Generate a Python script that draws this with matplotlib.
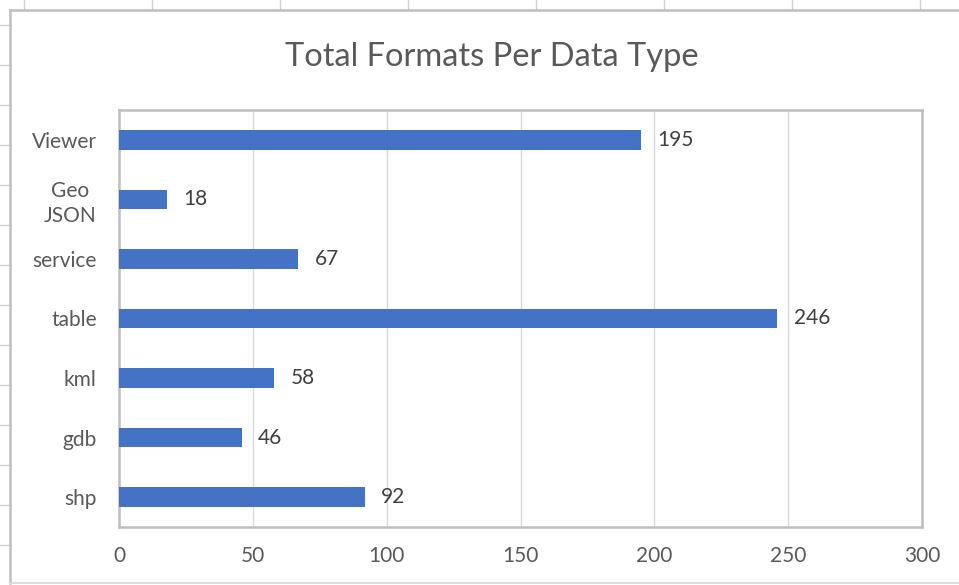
import matplotlib.pyplot as plt
from matplotlib.lines import Line2D

categories = ["shp", "gdb", "kml", "table", "service", "Geo\nJSON", "Viewer"]
counts = [92, 46, 58, 246, 67, 18, 195]
x_ticks = [0, 50, 100, 150, 200, 250, 300]

plt.rcParams['font.family'] = ['Lato', 'DejaVu Sans']
text_col = '#595959'

fig = plt.figure(figsize=(9.59, 5.85), dpi=100)
W, H = 959, 585

# spreadsheet cell lines showing around the chart
for x in [24, 152, 280, 408, 536, 664, 792, 920]:
    fig.add_artist(Line2D([x / W, x / W], [1, 1 - 10 / H], color='#d0d0d0', lw=1))
for y in [25, 65, 105, 145, 185, 225, 265, 305, 345, 385, 425, 465, 505, 545]:
    fig.add_artist(Line2D([0, 10 / W], [1 - y / H, 1 - y / H], color='#d0d0d0', lw=1))

# chart area border
fig.add_artist(Line2D([10 / W, 10 / W], [1 - 10 / H, 1 - 583 / H], color='#bfbfbf', lw=1.8))
fig.add_artist(Line2D([10 / W, 1], [1 - 10 / H, 1 - 10 / H], color='#bfbfbf', lw=1.8))
fig.add_artist(Line2D([10 / W, 1], [1 - 583 / H, 1 - 583 / H], color='#d9d9d9', lw=1.2))

ax = fig.add_axes([119 / W, 1 - 527 / H, (922 - 119) / W, (527 - 110) / H])
pos = range(len(categories))
ax.barh(pos, counts, height=0.33, color='#4472C4', zorder=3)
for p, v in zip(pos, counts):
    ax.text(v + 6, p, str(v), va='center', ha='left', fontsize=15, color='#404040')

ax.set_xlim(0, 300)
ax.set_ylim(-0.5, len(categories) - 0.5)
ax.set_xticks(x_ticks)
ax.set_yticks(list(pos))
ax.set_yticklabels(categories, multialignment='center', linespacing=1.3)
ax.tick_params(axis='both', length=0, labelsize=15, labelcolor=text_col)
ax.tick_params(axis='y', pad=16)
ax.tick_params(axis='x', pad=14)
ax.grid(axis='x', color='#d9d9d9', lw=1, zorder=0)
for s in ax.spines.values():
    s.set_color('#bfbfbf')
    s.set_linewidth(1.8)

fig.text(492 / W, 1 - 57 / H, 'Total Formats Per Data Type', ha='center', va='center',
         fontsize=23.5, color=text_col)

fig.savefig('out.png', dpi=100)
